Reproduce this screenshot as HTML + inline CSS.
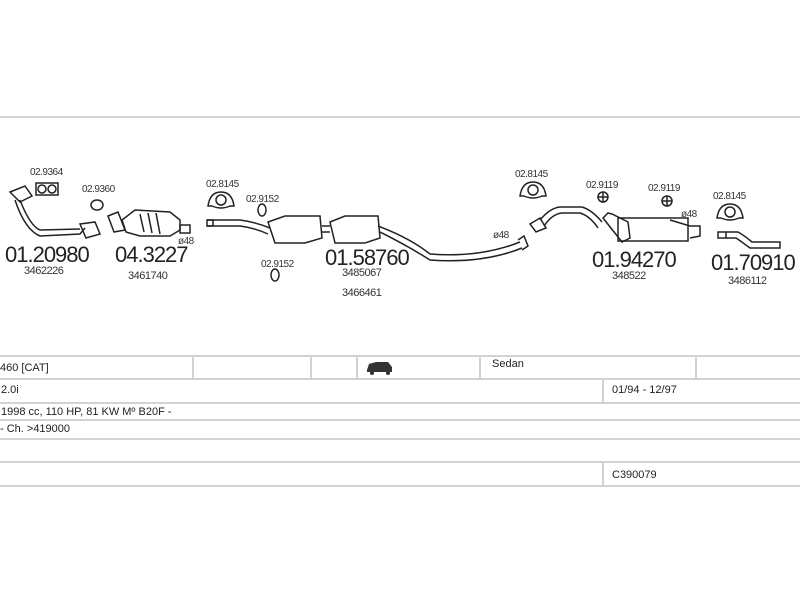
<!DOCTYPE html>
<html><head><meta charset="utf-8"><style>
html,body{margin:0;padding:0;background:#fff;}
svg{display:block;font-family:"Liberation Sans",Arial,sans-serif;}
</style></head><body>
<svg width="800" height="600" viewBox="0 0 800 600" xmlns="http://www.w3.org/2000/svg">
<rect width="800" height="600" fill="#fff"/>
<line x1="0" y1="117" x2="800" y2="117" stroke="#d4d4d4" stroke-width="2"/>

<g fill="#333" font-size="10" letter-spacing="-0.5">
<text x="30" y="175">02.9364</text>
<text x="82" y="192">02.9360</text>
<text x="206" y="187">02.8145</text>
<text x="246" y="202">02.9152</text>
<text x="261" y="267">02.9152</text>
<text x="515" y="177">02.8145</text>
<text x="586" y="188">02.9119</text>
<text x="648" y="191">02.9119</text>
<text x="713" y="199">02.8145</text>
<text x="178" y="244">ø48</text>
<text x="493" y="238">ø48</text>
<text x="681" y="217">ø48</text>
</g>
<g fill="#222" font-size="22" letter-spacing="-1">
<text x="5" y="262">01.20980</text>
<text x="115" y="262">04.3227</text>
<text x="325" y="265">01.58760</text>
<text x="592" y="267">01.94270</text>
<text x="711" y="270">01.70910</text>
</g>
<g fill="#333" font-size="11" letter-spacing="-0.5">
<text x="24" y="274">3462226</text>
<text x="128" y="279">3461740</text>
<text x="342" y="276">3485067</text>
<text x="342" y="296">3466461</text>
<text x="612" y="279">348522</text>
<text x="728" y="284">3486112</text>
</g>

<g fill="none" stroke="#222" stroke-width="1.5">
<rect x="36" y="183" width="22" height="12"/>
<circle cx="42" cy="189" r="4"/><circle cx="52" cy="189" r="4"/>
<ellipse cx="97" cy="205" rx="6" ry="5"/>
<ellipse cx="262" cy="210" rx="4" ry="6"/>
<ellipse cx="275" cy="275" rx="4" ry="6"/>
<path d="M10 192 L25 186 L32 196 L20 202 Z"/>
<path d="M15 200 Q25 230 40 236 L80 234 L85 228"/>
<path d="M20 200 Q30 226 40 230 L80 229"/>
<path d="M80 224 L95 222 L100 234 L86 238 Z"/>
<path d="M108 216 L118 212 L125 230 L114 232 Z"/>
<path d="M122 220 L135 210 L170 212 L180 220 L180 230 L170 236 L140 236 L126 232 Z"/>
<path d="M140 214 L144 232 M148 213 L152 233 M156 213 L160 234"/>
<rect x="180" y="225" width="10" height="8"/>
<g id="h">
<path d="M208 206 Q210 192 221 192 Q232 192 234 206 L230 206 Q221 210 212 206 Z"/>
<circle cx="221" cy="200" r="5"/>
</g>
<use href="#h" x="312" y="-10"/>
<use href="#h" x="509" y="12"/>
<rect x="207" y="220" width="6" height="6"/>
<path d="M207 220 L240 220 Q255 222 270 228"/>
<path d="M207 226 L240 226 Q255 228 268 234"/>
<path d="M268 222 L285 216 L320 216 L322 238 L305 243 L275 243 Z"/>
<path d="M322 226 L330 226 M322 232 L330 232"/>
<path d="M330 222 L345 216 L378 216 L380 238 L365 243 L335 243 Z"/>
<path d="M378 226 Q410 238 430 254 Q480 258 520 242"/>
<path d="M380 232 Q408 246 430 260 Q482 264 522 248"/>
<path d="M518 240 L524 236 L528 246 L522 250"/>
<path d="M530 224 L540 218 L546 228 L536 232 Z"/>
<path d="M540 220 Q550 208 560 207 L582 207 Q592 210 602 222"/>
<path d="M544 226 Q552 214 562 213 L580 213 Q590 216 598 228"/>
<path d="M603 218 L608 213 L612 214 L628 222 L630 238 L622 242 Z"/>
<rect x="618" y="218" width="70" height="23"/>
<path d="M670 220 L690 226 L700 226 L700 236 L690 238"/>
<circle cx="603" cy="197" r="5"/><circle cx="667" cy="201" r="5"/>
<path d="M598 197 H608 M603 192 V202 M662 201 H672 M667 196 V206"/>
<rect x="718" y="232" width="8" height="6"/>
<path d="M726 232 L738 232 Q745 236 752 242 L780 242 L780 248 L750 248 Q742 242 736 238 L726 238"/>
</g>

<g stroke="#d2d2d2" stroke-width="2">
<line x1="0" y1="356" x2="800" y2="356"/>
<line x1="0" y1="379" x2="800" y2="379"/>
<line x1="0" y1="403" x2="800" y2="403"/>
<line x1="0" y1="420" x2="800" y2="420"/>
<line x1="0" y1="439" x2="800" y2="439"/>
<line x1="0" y1="462" x2="800" y2="462"/>
<line x1="0" y1="486" x2="800" y2="486"/>
<line x1="193" y1="356" x2="193" y2="379"/>
<line x1="311" y1="356" x2="311" y2="379"/>
<line x1="357" y1="356" x2="357" y2="379"/>
<line x1="480" y1="356" x2="480" y2="379"/>
<line x1="696" y1="356" x2="696" y2="379"/>
<line x1="603" y1="379" x2="603" y2="403"/>
<line x1="603" y1="462" x2="603" y2="486"/>
</g>
<g fill="#222" font-size="11">
<text x="0" y="371">460  [CAT]</text>
<text x="492" y="367">Sedan</text>
<text x="1" y="393">2.0i</text>
<text x="612" y="393">01/94 - 12/97</text>
<text x="1" y="415">1998 cc, 110 HP, 81 KW Mº B20F -</text>
<text x="0" y="432">- Ch. &gt;419000</text>
<text x="612" y="478">C390079</text>
</g>
<path d="M367 370 L369 364 L376 362 L388 362 L392 367 L392 372 L367 372 Z" fill="#333"/>
<circle cx="372" cy="373" r="2" fill="#333"/><circle cx="388" cy="373" r="2" fill="#333"/>
</svg>
</body></html>
